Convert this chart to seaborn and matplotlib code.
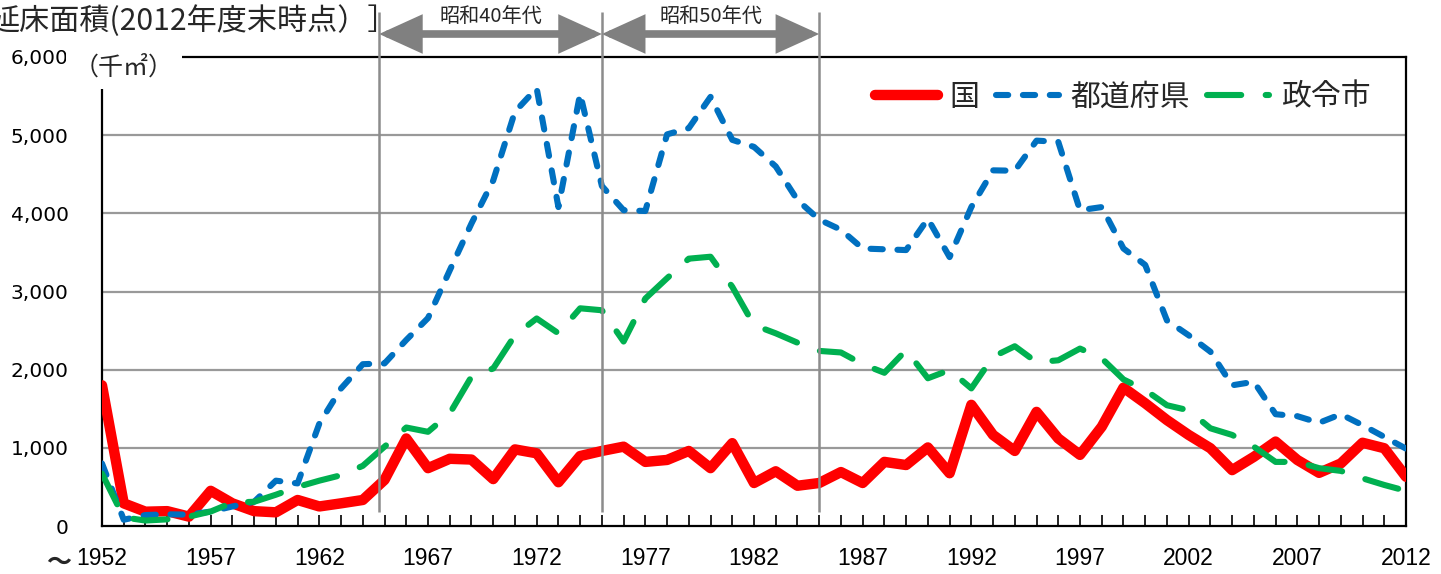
import matplotlib
matplotlib.use("Agg")
import matplotlib.pyplot as plt
import seaborn as sns
import pandas as pd

# ---- data ----
years = list(range(1952, 2013))
kuni = [1800, 290, 183, 190, 120, 450, 290, 190, 175, 333,
        250, 290, 333, 590, 1120, 740, 860, 850, 600, 980,
        930, 560, 895, 960, 1015, 820, 845, 960, 740, 1060,
        550, 700, 515, 550, 690, 550, 820, 780, 1005, 675,
        1550, 1165, 960, 1460, 1120, 910, 1270, 1770, 1570, 1355,
        1165, 995, 715, 885, 1080, 845, 680, 800, 1065, 995,
        630]
todofuken = [800, 80, 140, 150, 145, 185, 250, 310, 580, 545,
             1310, 1760, 2070, 2080, 2380, 2660, 3270, 3870, 4420, 5300,
             5600, 4080, 5530, 4350, 4040, 4030, 5010, 5090, 5490, 4940,
             4850, 4600, 4170, 3920, 3790, 3550, 3540, 3530, 3930, 3440,
             4080, 4550, 4545, 4930, 4915, 4040, 4080, 3550, 3340, 2630,
             2440, 2230, 1800, 1845, 1430, 1405, 1320, 1430, 1290, 1140,
             990]
seireishi = [670, 110, 70, 85, 120, 185, 300, 310, 400, 500,
             580, 650, 770, 1015, 1260, 1205, 1440, 1910, 2015, 2440,
             2655, 2465, 2785, 2760, 2360, 2910, 3170, 3420, 3445, 3060,
             2570, 2465, 2345, 2240, 2220, 2070, 1960, 2250, 1890, 1995,
             1760, 2165, 2300, 2095, 2120, 2270, 2145, 1875, 1740, 1545,
             1480, 1250, 1165, 1015, 820, 820, 740, 705, 610, 525,
             450]
series_names = ["国", "都道府県", "政令市"]
xtick_years = [1952, 1957, 1962, 1967, 1972, 1977, 1982, 1987, 1992, 1997, 2002, 2007, 2012]
ytick_vals = [0, 1000, 2000, 3000, 4000, 5000, 6000]
era_bounds = [1964.75, 1975, 1985]
era_labels = ["昭和40年代", "昭和50年代"]
title_text = "延床面積(2012年度末時点）］"
unit_text = "（千㎡）"

# ---- style ----
sns.set_theme(style="white")
JP = ["Noto Sans CJK JP", "DejaVu Sans"]
plt.rcParams["font.family"] = JP

df = pd.DataFrame({"year": years, "国": kuni, "都道府県": todofuken, "政令市": seireishi})

fig = plt.figure(figsize=(14.41, 5.74), dpi=100)
W, H = 1441, 574
L, R, T, B = 102, 1406, 57, 526
ax = fig.add_axes([L / W, 1 - B / H, (R - L) / W, (B - T) / H])

colors = ["#FF0000", "#0070C0", "#00B050"]
widths = [7.5, 4.4, 4.4]
dash_pats = [None, (2.0, 2.4), (5.6, 4.0)]
handles = []
for name, c, lw, dp in zip(series_names, colors, widths, dash_pats):
    sns.lineplot(data=df, x="year", y=name, ax=ax, color=c, linewidth=lw, zorder=3)
    ln = ax.lines[-1]
    ln.set_solid_joinstyle("round")
    ln.set_solid_capstyle("round")
    if dp is not None:
        ln.set_dashes(dp)
        ln.set_dash_capstyle("round")
        ln.set_dash_joinstyle("round")
    handles.append(ln)

ax.set_xlim(years[0], years[-1])
ax.set_ylim(ytick_vals[0], ytick_vals[-1])
ax.set_xlabel("")
ax.set_ylabel("")

# grid
for v in ytick_vals[1:-1]:
    ax.axhline(v, color="#999999", lw=1.6, zorder=1)

# spines
for s in ax.spines.values():
    s.set_color("black")
    s.set_linewidth(1.6)
    s.set_visible(True)

ax.set_yticks(ytick_vals)
ax.set_yticklabels([f"{v:,}" for v in ytick_vals], fontsize=14.5,
                   family=["DejaVu Sans"])
ax.set_xticks(years, minor=True)
ax.set_xticks(xtick_years)
ax.set_xticklabels([str(y) for y in xtick_years], fontsize=16.5,
                   family=["Liberation Sans", "DejaVu Sans"])
ax.tick_params(axis="y", which="major", direction="in", length=5, width=1.2, pad=24, colors="black", left=True)
ax.tick_params(axis="x", which="both", direction="in", length=8, width=1.2, pad=15, colors="black", bottom=True)

# tilde before the first year
ax.annotate("～", xy=(years[0], 0), xycoords=("data", "axes fraction"),
            xytext=(-31, -37), textcoords="offset pixels", ha="right", va="center",
            fontsize=18, fontweight="bold", family=JP, annotation_clip=False)

# era boundaries
ax.vlines(era_bounds, ymin=(B - 512) / (B - T), ymax=(B - 12) / (B - T),
          transform=ax.get_xaxis_transform(), colors="#8c8c8c", lw=1.8,
          zorder=6, clip_on=False)
arrow_y = (B - 34) / (B - T)
text_y = (B - 17) / (B - T)
for i, lab in enumerate(era_labels):
    x0, x1 = era_bounds[i], era_bounds[i + 1]
    ax.annotate("", xy=(x1, arrow_y), xytext=(x0, arrow_y),
                xycoords=("data", "axes fraction"), textcoords=("data", "axes fraction"),
                arrowprops=dict(arrowstyle="<|-|>,head_length=1.1,head_width=0.5",
                                mutation_scale=20, color="#808080", lw=5.5,
                                shrinkA=0, shrinkB=0, joinstyle="miter"),
                annotation_clip=False)
    ax.text((x0 + x1) / 2, text_y, lab, transform=ax.get_xaxis_transform(),
            ha="center", va="center", fontsize=14.5, family=JP, clip_on=False)

# unit label (figure coords)
ax.text(124 / W, 1 - 68 / H, unit_text, transform=fig.transFigure,
        ha="center", va="center", fontsize=18, family=JP, zorder=10,
        bbox=dict(boxstyle="square,pad=0.3", fc="white", ec="none"))

# title (cut at left edge, as in the reference)
fig.text(-10 / W, 1 - 21 / H, title_text, ha="left", va="center",
         fontsize=21.7, family=JP)

leg = ax.legend(handles, series_names, loc="center right",
                bbox_to_anchor=((1371 - L) / (R - L), (B - 97) / (B - T)),
                ncol=3, frameon=False, handlelength=2.1,
                handletextpad=0.4, columnspacing=0.55, borderpad=0, borderaxespad=0,
                prop={"family": JP, "size": 21.5})

fig.savefig("out.png", dpi=100)
